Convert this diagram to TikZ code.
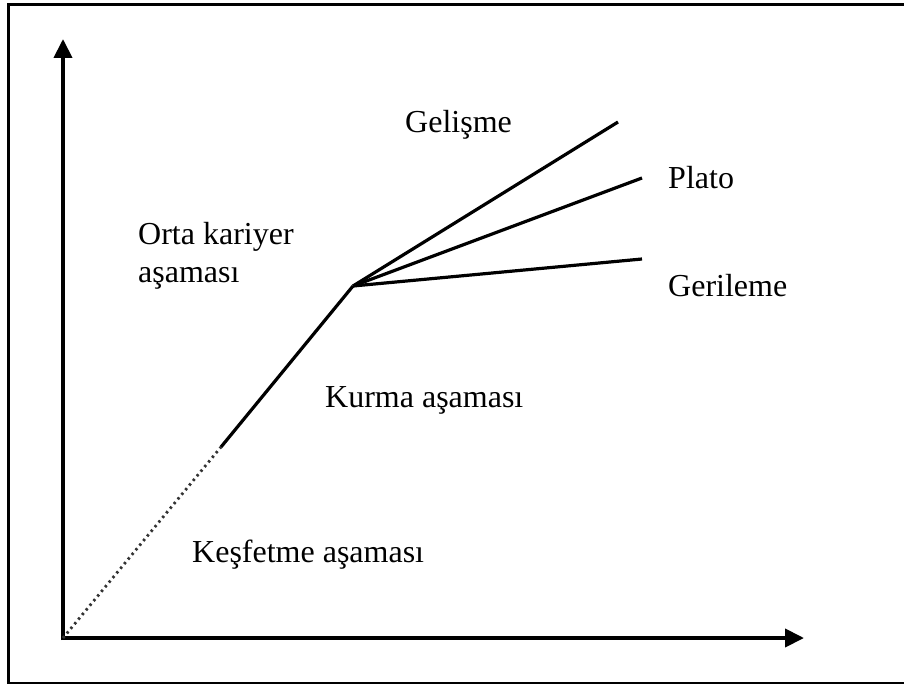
\documentclass[tikz,border=0pt]{standalone}
\usepackage{fontspec}
\setmainfont{Liberation Serif}
\usetikzlibrary{arrows.meta}
\begin{document}
\begin{tikzpicture}[x=1pt,y=-1pt,
  axis/.style={line width=4pt,-{Triangle[length=19pt,width=18pt]}},
  curve/.style={line width=3.2pt},
  dotline/.style={line width=2.8pt,dash pattern=on 2.4pt off 3.6pt,draw=black!80},
  lbl/.style={anchor=base west,inner sep=0pt,font=\fontsize{32}{38}\selectfont,align=left}]
\useasboundingbox (0,0) rectangle (904,684);
\draw[line width=3pt] (910,5) -- (8,5) -- (8,683) -- (910,683);
\coordinate (O) at (63,638);
\coordinate (ytip) at (63,39);
\coordinate (xtip) at (804,638);
\coordinate (D) at (221,447);
\coordinate (J) at (353,286);
\coordinate (G1) at (618,122);
\coordinate (P1) at (642,178);
\coordinate (R1) at (642,259);
\draw[axis] (63,640) -- (ytip);
\draw[axis] (61,638) -- (xtip);
\draw[dotline] (O) -- (D);
\draw[curve] (D) -- (J);
\draw[curve] (J) -- (G1);
\draw[curve] (J) -- (P1);
\draw[curve] (J) -- (R1);
\node[lbl] (gel) at (405,133) {Gelişme};
\node[lbl] (pla) at (668,189) {Plato};
\node[lbl] (ger) at (668,297) {Gerileme};
\node[lbl] (orta) at (138,283) {Orta kariyer\\aşaması};
\node[lbl] (kur) at (325,407) {Kurma aşaması};
\node[lbl] (kes) at (192,562) {Keşfetme aşaması};
\end{tikzpicture}
\end{document}
